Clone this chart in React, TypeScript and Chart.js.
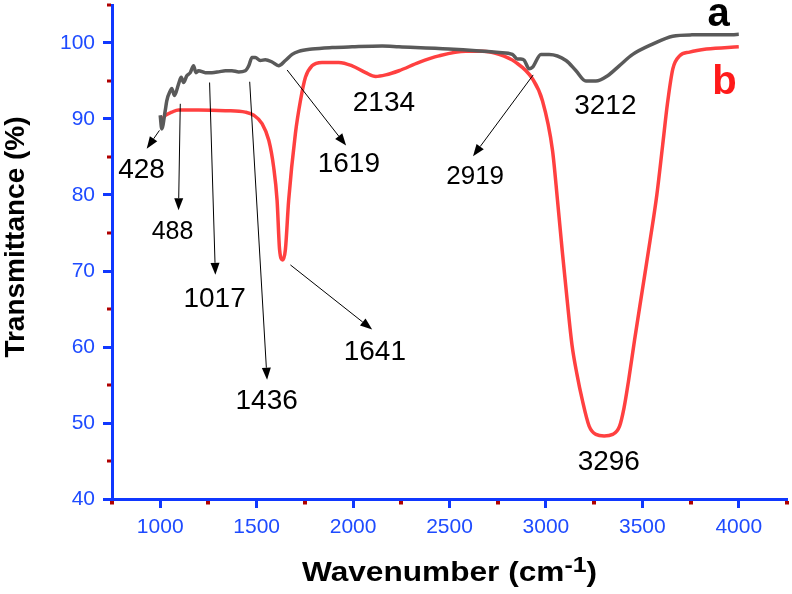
import React, { useEffect, useRef } from "react";
import { Chart, registerables } from "chart.js";

Chart.register(...registerables);

// ---- data (wavenumber cm-1 / transmittance %) ----
const waveA = [1000, 1008, 1026, 1034, 1052, 1060, 1074, 1095, 1109, 1121, 1138, 1156, 1173, 1185, 1199, 1234, 1268, 1303, 1338, 1372, 1407, 1441, 1459, 1476, 1493, 1519, 1545, 1580, 1614, 1649, 1684, 1718, 1787, 1891, 1995, 2151, 2238, 2497, 2757, 2826, 2852, 2870, 2887, 2913, 2930, 2974, 3017, 3104, 3156, 3207, 3259, 3320, 3380, 3450, 3553, 3657, 3757, 3965, 4000];
const transA = [90.5, 88.7, 91.1, 92.4, 93.7, 94.0, 93.1, 94.6, 95.5, 94.8, 95.7, 96.1, 97.0, 96.1, 96.35, 96.1, 96.1, 96.2, 96.35, 96.35, 96.2, 96.35, 97.0, 98.1, 98.1, 97.7, 97.8, 97.5, 97.0, 97.7, 98.5, 98.9, 99.2, 99.4, 99.5, 99.6, 99.5, 99.2, 98.75, 98.5, 97.9, 97.9, 97.75, 96.6, 96.8, 98.5, 98.5, 97.7, 96.35, 95.0, 95.0, 95.7, 97.0, 98.5, 99.85, 100.9, 101.07, 101.1, 101.15];

const waveB = [1000, 1026, 1060, 1095, 1199, 1338, 1441, 1485, 1528, 1563, 1588, 1606, 1619, 1635, 1649, 1666, 1701, 1727, 1753, 1787, 1839, 1926, 1995, 2065, 2117, 2169, 2238, 2342, 2445, 2584, 2670, 2757, 2844, 2930, 2982, 3034, 3060, 3084, 3110, 3135, 3161, 3188, 3224, 3259, 3302, 3346, 3382, 3405, 3428, 3460, 3500, 3540, 3575, 3605, 3630, 3658, 3693, 3745, 3832, 4000];
const transB = [89.6, 90.46, 90.9, 91.2, 91.2, 91.1, 90.9, 90.5, 89.4, 87.2, 83.7, 79.3, 72.8, 71.45, 72.8, 79.3, 88.1, 92.4, 95.5, 97.0, 97.45, 97.45, 97.0, 96.1, 95.6, 95.8, 96.35, 97.45, 98.3, 98.9, 98.9, 98.5, 97.45, 95.3, 92.4, 85.9, 79.3, 72.8, 66.2, 60.3, 56.4, 53.1, 49.6, 48.5, 48.3, 48.5, 49.6, 52.0, 55.5, 61.0, 67.5, 74.0, 80.0, 86.5, 92.0, 96.6, 98.3, 98.8, 99.2, 99.5];

// axis ranges / ticks
const xMin = 750;
const xMax = 4250;
const xStep = 250;
const xLabelEvery = 500;
const yMin = 40;
const yMax = 105;
const yStep = 5;
const yLabelEvery = 10;

// peak annotations (text, data-space anchor of baseline centre)
const peakLabels = ["428", "488", "1017", "1436", "1641", "1619", "2134", "2919", "3212", "3296"];
const peakLabelX = [903, 1064, 1282, 1552, 2113, 1978, 2160, 2633, 3308, 3326];
const peakLabelY = [82.2, 74.2, 65.3, 51.8, 58.3, 83.0, 91.1, 81.5, 90.7, 43.8];

// arrows (data-space start and tip)
const arrowFromX = [996, 1104, 1256, 1464, 1675, 1658, 2934];
const arrowFromY = [88.5, 92.0, 94.8, 94.9, 70.8, 96.45, 95.8];
const arrowToX = [930, 1095, 1286, 1554, 2099, 1964, 2622];
const arrowToY = [86.1, 78.0, 69.5, 55.7, 62.3, 86.5, 85.1];

// series tags
const seriesNames = ["a", "b"];
const seriesTagX = [3895, 3926];
const seriesTagY = [102.25, 93.3];

// ---- styles ----
const FONT = "'Liberation Sans', Arial, Helvetica, sans-serif";
const AXIS_BLUE = "#1038ff";
const TICK_BLUE = "#1e4bff";
const MINOR_RED = "#b00000";
const GRAY = "#5a5a5a";
const RED = "#ff4040";
const TAG_COLORS = ["#000000", "#ff1a1a"];
const LABEL_SIZES = [28, 25, 28, 28, 28, 28, 28, 26, 28, 28];

function drawArrow(ctx: CanvasRenderingContext2D, x1: number, y1: number, x2: number, y2: number) {
  const ang = Math.atan2(y2 - y1, x2 - x1);
  const L = 12;
  const W = 4.5;
  const bx = x2 - L * Math.cos(ang);
  const by = y2 - L * Math.sin(ang);
  ctx.beginPath();
  ctx.moveTo(x1, y1);
  ctx.lineTo(bx, by);
  ctx.stroke();
  ctx.beginPath();
  ctx.moveTo(x2, y2);
  ctx.lineTo(bx + W * Math.sin(ang), by - W * Math.cos(ang));
  ctx.lineTo(bx - W * Math.sin(ang), by + W * Math.cos(ang));
  ctx.closePath();
  ctx.fill();
}

const decorPlugin = {
  id: "decor",
  afterDraw(chart: any) {
    const ctx: CanvasRenderingContext2D = chart.ctx;
    const xs = chart.scales.x;
    const ys = chart.scales.y;
    const area = chart.chartArea;
    ctx.save();

    // minor ticks (red)
    ctx.fillStyle = MINOR_RED;
    xs.ticks.forEach((t: any) => {
      if (Math.round(t.value) % xLabelEvery !== 0) {
        const px = xs.getPixelForValue(t.value);
        ctx.fillRect(Math.round(px) - 2, Math.round(area.bottom) + 2, 4, 3.5);
      }
    });
    ys.ticks.forEach((t: any) => {
      if (Math.round(t.value) % yLabelEvery !== 0) {
        const py = ys.getPixelForValue(t.value);
        ctx.fillRect(Math.round(area.left) - 5, Math.round(py) - 1.5, 4, 3);
      }
    });

    // arrows
    ctx.strokeStyle = "#000";
    ctx.fillStyle = "#000";
    ctx.lineWidth = 1;
    for (let i = 0; i < arrowFromX.length; i++) {
      drawArrow(
        ctx,
        xs.getPixelForValue(arrowFromX[i]),
        ys.getPixelForValue(arrowFromY[i]),
        xs.getPixelForValue(arrowToX[i]),
        ys.getPixelForValue(arrowToY[i])
      );
    }

    // peak labels
    ctx.textAlign = "center";
    ctx.textBaseline = "alphabetic";
    for (let i = 0; i < peakLabels.length; i++) {
      ctx.font = `${LABEL_SIZES[i]}px ${FONT}`;
      ctx.fillText(peakLabels[i], xs.getPixelForValue(peakLabelX[i]), ys.getPixelForValue(peakLabelY[i]));
    }

    // series tags
    ctx.font = `bold 40px ${FONT}`;
    for (let i = 0; i < seriesNames.length; i++) {
      ctx.fillStyle = TAG_COLORS[i];
      ctx.fillText(seriesNames[i], xs.getPixelForValue(seriesTagX[i]), ys.getPixelForValue(seriesTagY[i]));
    }

    // y title
    ctx.fillStyle = "#000";
    ctx.save();
    ctx.translate(24, (area.top + area.bottom) / 2 - 15);
    ctx.rotate(-Math.PI / 2);
    ctx.font = `bold 28px ${FONT}`;
    ctx.textAlign = "center";
    ctx.fillText("Transmittance (%)", 0, 0);
    ctx.restore();

    // x title with superscript, slightly stretched horizontally
    const main = "Wavenumber (cm";
    const sup = "-1";
    const close = ")";
    ctx.textAlign = "left";
    ctx.font = `bold 28px ${FONT}`;
    const wMain = ctx.measureText(main).width;
    const wClose = ctx.measureText(close).width;
    ctx.font = `bold 22px ${FONT}`;
    const wSup = ctx.measureText(sup).width;
    const total = wMain + wSup + wClose;
    const targetW = 295;
    const sx = targetW / total;
    const cx = (area.left + area.right) / 2;
    const baseY = 581;
    ctx.save();
    ctx.translate(cx - targetW / 2, baseY);
    ctx.scale(sx, 1);
    ctx.font = `bold 28px ${FONT}`;
    ctx.fillText(main, 0, 0);
    ctx.font = `bold 22px ${FONT}`;
    ctx.fillText(sup, wMain, -9);
    ctx.font = `bold 28px ${FONT}`;
    ctx.fillText(close, wMain + wSup, 0);
    ctx.restore();

    ctx.restore();
  },
};

export default function App() {
  const ref = useRef<HTMLCanvasElement | null>(null);

  useEffect(() => {
    if (!ref.current) return;
    const chart = new Chart(ref.current, {
      type: "line",
      data: {
        datasets: [
          {
            label: "a",
            data: waveA.map((x, i) => ({ x, y: transA[i] })),
            borderColor: GRAY,
            borderWidth: 3.5,
            pointRadius: 0,
            cubicInterpolationMode: "monotone",
            fill: false,
          },
          {
            label: "b",
            data: waveB.map((x, i) => ({ x, y: transB[i] })),
            borderColor: RED,
            borderWidth: 3.5,
            pointRadius: 0,
            cubicInterpolationMode: "monotone",
            fill: false,
          },
        ],
      },
      options: {
        animation: false,
        responsive: false,
        maintainAspectRatio: false,
        layout: { padding: { left: 0, top: 5, right: 5, bottom: 0 } },
        plugins: {
          legend: { display: false },
          tooltip: { enabled: false },
        },
        elements: { point: { radius: 0 } },
        scales: {
          x: {
            type: "linear",
            position: "bottom",
            min: xMin,
            max: xMax,
            ticks: {
              stepSize: xStep,
              autoSkip: false,
              maxRotation: 0,
              color: TICK_BLUE,
              font: { family: FONT, size: 21 },
              padding: 7,
              callback: (v: any) => (Math.round(v) % xLabelEvery === 0 ? String(v) : ""),
            },
            grid: {
              drawOnChartArea: false,
              drawTicks: true,
              tickLength: 9,
              tickWidth: 3,
              tickColor: (c: any) =>
                c.tick && Math.round(c.tick.value) % xLabelEvery === 0 ? AXIS_BLUE : "rgba(0,0,0,0)",
            },
            border: { display: true, color: AXIS_BLUE, width: 3 },
            afterFit: (s: any) => {
              s.height = 95;
              s.paddingLeft = 0;
              s.paddingRight = 0;
            },
          },
          y: {
            type: "linear",
            position: "left",
            min: yMin,
            max: yMax,
            ticks: {
              stepSize: yStep,
              autoSkip: false,
              color: TICK_BLUE,
              font: { family: FONT, size: 21 },
              padding: 8,
              callback: (v: any) => (Math.round(v) % yLabelEvery === 0 ? String(v) : ""),
            },
            grid: {
              drawOnChartArea: false,
              drawTicks: true,
              tickLength: 9,
              tickWidth: 3,
              tickColor: (c: any) =>
                c.tick && Math.round(c.tick.value) % yLabelEvery === 0 ? AXIS_BLUE : "rgba(0,0,0,0)",
            },
            border: { display: true, color: AXIS_BLUE, width: 3 },
            afterFit: (s: any) => {
              s.width = 112;
              s.paddingTop = 0;
              s.paddingBottom = 0;
            },
          },
        },
      },
      plugins: [decorPlugin],
    } as any);
    return () => chart.destroy();
  }, []);

  return (
    <div style={{ position: "absolute", left: 0, top: 0, width: 792, height: 594, background: "#fff" }}>
      <canvas ref={ref} width={792} height={594} style={{ display: "block" }} />
    </div>
  );
}
